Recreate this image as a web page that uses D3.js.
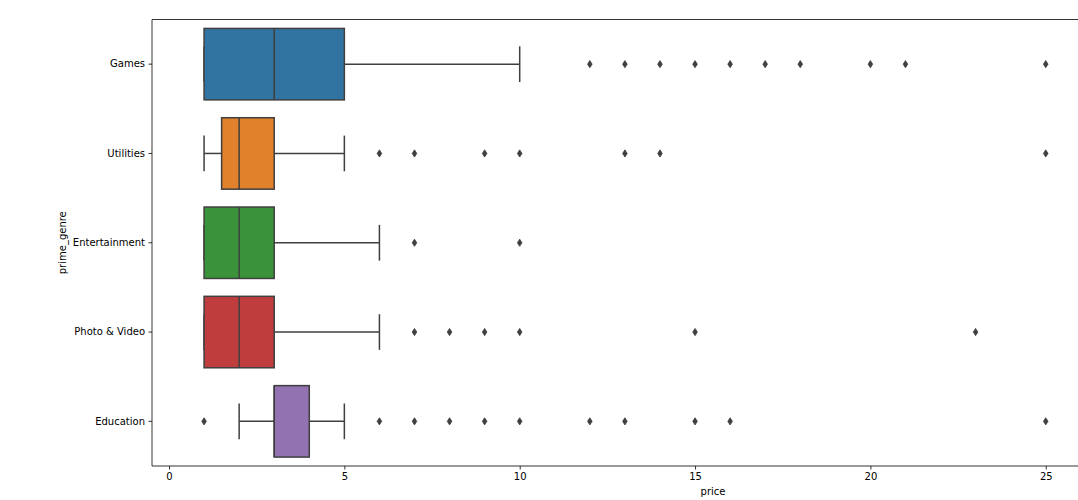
<!DOCTYPE html>
<html><head><meta charset="utf-8">
<script src="https://cdn.jsdelivr.net/npm/d3@7"></script>
<style>body{margin:0;background:#fff}svg{display:block}text{font-family:"DejaVu Sans",sans-serif;fill:#000}</style>
</head><body><svg id="c" width="1078" height="500"></svg>
<script>
const categories = ["Games","Utilities","Entertainment","Photo & Video","Education"];
const colors = ["#3274a1","#e1812c","#3a923a","#c03d3e","#9372b2"];
// [whiskerLow, q1, median, q3, whiskerHigh]
const stats = [
  [1, 1, 3, 5, 10],
  [1, 1.5, 2, 3, 5],
  [1, 1, 2, 3, 6],
  [1, 1, 2, 3, 6],
  [2, 3, 3, 4, 5]
];
const outliers = [
  [12,13,14,15,16,17,18,20,21,25],
  [6,7,9,10,13,14,25],
  [7,10],
  [7,8,9,10,15,23],
  [1,6,7,8,9,10,12,13,15,16,25]
];
const xTicks = [0,5,10,15,20,25];
const xLabel = "price", yLabel = "prime_genre";

const L=152, R=1078, T=19.5, B=466;
const svg = d3.select("#c");
const x = d3.scaleLinear().domain([-0.485, 25.92]).range([L, R]);
const y = d3.scaleBand().domain(categories).range([T, B]).padding(0);
const bw = y.bandwidth()*0.8;
const line = "#3f3f3f";

categories.forEach((c,i)=>{
  const s = stats[i], cy = y(c)+y.bandwidth()/2;
  const g = svg.append("g");
  g.append("line").attr("x1",x(s[0])).attr("x2",x(s[1])).attr("y1",cy).attr("y2",cy).attr("stroke",line).attr("stroke-width",1.5);
  g.append("line").attr("x1",x(s[3])).attr("x2",x(s[4])).attr("y1",cy).attr("y2",cy).attr("stroke",line).attr("stroke-width",1.5);
  [s[0],s[4]].forEach(v=>{
    g.append("line").attr("x1",x(v)).attr("x2",x(v)).attr("y1",cy-bw/4).attr("y2",cy+bw/4).attr("stroke",line).attr("stroke-width",1.5);
  });
  g.append("rect").attr("x",x(s[1])).attr("width",x(s[3])-x(s[1])).attr("y",cy-bw/2).attr("height",bw)
    .attr("fill",colors[i]).attr("stroke",line).attr("stroke-width",1.5);
  g.append("line").attr("x1",x(s[2])).attr("x2",x(s[2])).attr("y1",cy-bw/2).attr("y2",cy+bw/2).attr("stroke",line).attr("stroke-width",1.5);
  g.selectAll("path.o").data(outliers[i]).enter().append("path")
    .attr("d",d=>{const px=x(d);return `M${px},${cy-3.6}L${px+2.3},${cy}L${px},${cy+3.6}L${px-2.3},${cy}Z`;})
    .attr("fill",line).attr("stroke",line).attr("stroke-width",0.8);
});

svg.append("line").attr("x1",L).attr("x2",L).attr("y1",T).attr("y2",B).attr("stroke","#000").attr("stroke-width",0.8);
svg.append("line").attr("x1",L).attr("x2",R).attr("y1",T).attr("y2",T).attr("stroke","#000").attr("stroke-width",0.8);
svg.append("line").attr("x1",L).attr("x2",R).attr("y1",B).attr("y2",B).attr("stroke","#000").attr("stroke-width",0.8);

const xa = svg.append("g").attr("transform",`translate(0,${B})`)
  .call(d3.axisBottom(x).tickValues(xTicks).tickSize(3.5).tickPadding(3.5));
xa.select(".domain").remove();
xa.selectAll("text").attr("font-size",10).style("font-family","DejaVu Sans");
xa.selectAll("line").attr("stroke-width",0.8);
const ya = svg.append("g").attr("transform",`translate(${L},0)`)
  .call(d3.axisLeft(y).tickSize(3.5).tickPadding(3.5));
ya.select(".domain").remove();
ya.selectAll("text").attr("font-size",10).style("font-family","DejaVu Sans");
ya.selectAll("line").attr("stroke-width",0.8);

svg.append("text").attr("x",713).attr("y",495).attr("text-anchor","middle").attr("font-size",10).text(xLabel);
svg.append("text").attr("transform",`translate(66,${(T+B)/2}) rotate(-90)`).attr("text-anchor","middle").attr("font-size",10).text(yLabel);
</script></body></html>
